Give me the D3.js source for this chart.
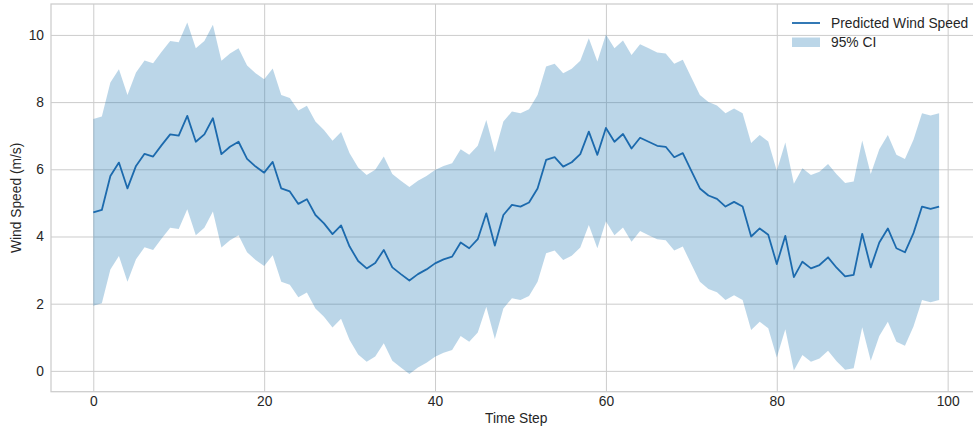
<!DOCTYPE html>
<html>
<head>
<meta charset="utf-8">
<script src="https://cdn.jsdelivr.net/npm/d3@7"></script>
<style>
  html, body { margin: 0; padding: 0; background: #ffffff; }
  svg { display: block; }
  text { font-family: "Liberation Sans", Arial, "DejaVu Sans", sans-serif; fill: #262626; }
</style>
</head>
<body>
<svg id="chart" width="973" height="429"></svg>
<script>
// Time steps 0..99
const timeSteps = d3.range(0, 100);

// Predicted wind speed (m/s) at each time step
const predicted = [
  4.72, 4.79, 5.80, 6.20, 5.43, 6.10, 6.46, 6.38, 6.72, 7.04,
  7.00, 7.59, 6.82, 7.04, 7.52, 6.45, 6.67, 6.82, 6.31, 6.08,
  5.90, 6.22, 5.43, 5.34, 4.97, 5.11, 4.64, 4.39, 4.07, 4.33,
  3.70, 3.27, 3.05, 3.21, 3.60, 3.08, 2.88, 2.69, 2.88, 3.02,
  3.20, 3.32, 3.40, 3.82, 3.65, 3.92, 4.69, 3.73, 4.64, 4.94,
  4.89, 5.01, 5.43, 6.28, 6.36, 6.08, 6.21, 6.45, 7.12, 6.43,
  7.23, 6.82, 7.05, 6.62, 6.94, 6.82, 6.70, 6.67, 6.36, 6.48,
  5.95, 5.43, 5.22, 5.12, 4.89, 5.03, 4.89, 4.00, 4.24, 4.05,
  3.18, 4.02, 2.79, 3.25, 3.05, 3.15, 3.38, 3.07, 2.81, 2.86,
  4.08, 3.08, 3.82, 4.24, 3.65, 3.53, 4.10, 4.89, 4.82, 4.89
];

// Lower bound of the 95% confidence interval
const ciLower = [
  1.94, 2.01, 3.02, 3.42, 2.65, 3.32, 3.68, 3.60, 3.94, 4.26,
  4.22, 4.81, 4.04, 4.26, 4.74, 3.67, 3.89, 4.04, 3.53, 3.30,
  3.12, 3.44, 2.65, 2.56, 2.19, 2.33, 1.86, 1.61, 1.29, 1.55,
  0.92, 0.49, 0.27, 0.43, 0.82, 0.30, 0.10, -0.09, 0.10, 0.24,
  0.42, 0.54, 0.62, 1.04, 0.87, 1.14, 1.91, 0.95, 1.86, 2.16,
  2.11, 2.23, 2.65, 3.50, 3.58, 3.30, 3.43, 3.67, 4.34, 3.65,
  4.45, 4.04, 4.27, 3.84, 4.16, 4.04, 3.92, 3.89, 3.58, 3.70,
  3.17, 2.65, 2.44, 2.34, 2.11, 2.25, 2.11, 1.22, 1.46, 1.27,
  0.40, 1.24, 0.01, 0.47, 0.27, 0.37, 0.60, 0.29, 0.03, 0.08,
  1.30, 0.30, 1.04, 1.46, 0.87, 0.75, 1.32, 2.11, 2.04, 2.11
];

// Upper bound of the 95% confidence interval
const ciUpper = [
  7.50, 7.57, 8.58, 8.98, 8.21, 8.88, 9.24, 9.16, 9.50, 9.82,
  9.78, 10.37, 9.60, 9.82, 10.30, 9.23, 9.45, 9.60, 9.09, 8.86,
  8.68, 9.00, 8.21, 8.12, 7.75, 7.89, 7.42, 7.17, 6.85, 7.11,
  6.48, 6.05, 5.83, 5.99, 6.38, 5.86, 5.66, 5.47, 5.66, 5.80,
  5.98, 6.10, 6.18, 6.60, 6.43, 6.70, 7.47, 6.51, 7.42, 7.72,
  7.67, 7.79, 8.21, 9.06, 9.14, 8.86, 8.99, 9.23, 9.90, 9.21,
  10.01, 9.60, 9.83, 9.40, 9.72, 9.60, 9.48, 9.45, 9.14, 9.26,
  8.73, 8.21, 8.00, 7.90, 7.67, 7.81, 7.67, 6.78, 7.02, 6.83,
  5.96, 6.80, 5.57, 6.03, 5.83, 5.93, 6.16, 5.85, 5.59, 5.64,
  6.86, 5.86, 6.60, 7.02, 6.43, 6.31, 6.88, 7.67, 7.60, 7.67
];

const xTicks = [0, 20, 40, 60, 80, 100];
const yTicks = [0, 2, 4, 6, 8, 10];

const legendLabels = ["Predicted Wind Speed", "95% CI"];

// ---- layout ----
const svg = d3.select("#chart");
const plot = { left: 51, right: 981.4, top: 4, bottom: 391.7 };
const lineColor = "#1c6aad";
const bandColor = "#1f77b4";
const gridColor = "#cccccc";
const fontSize = "13.8px";

const x = d3.scaleLinear().domain([-4.95, 103.95]).range([plot.left, plot.right]);
const y = d3.scaleLinear().domain([-0.62, 10.92]).range([plot.bottom, plot.top]);

const rows = timeSteps.map((t, i) => ({ t, p: predicted[i], lo: ciLower[i], hi: ciUpper[i] }));

// gridlines
const grid = svg.append("g");
grid.append("g")
  .attr("transform", `translate(0,${plot.bottom})`)
  .call(d3.axisBottom(x).tickValues(xTicks).tickSize(-(plot.bottom - plot.top)).tickFormat(""))
  .call(g => g.select(".domain").remove())
  .call(g => g.selectAll("line").attr("stroke", gridColor).attr("stroke-width", 1));
grid.append("g")
  .attr("transform", `translate(${plot.left},0)`)
  .call(d3.axisLeft(y).tickValues(yTicks).tickSize(-(plot.right - plot.left)).tickFormat(""))
  .call(g => g.select(".domain").remove())
  .call(g => g.selectAll("line").attr("stroke", gridColor).attr("stroke-width", 1));

// frame
svg.append("rect")
  .attr("x", plot.left).attr("y", plot.top)
  .attr("width", plot.right - plot.left).attr("height", plot.bottom - plot.top)
  .attr("fill", "none").attr("stroke", gridColor).attr("stroke-width", 1.25);

// confidence band
svg.append("path")
  .datum(rows)
  .attr("fill", bandColor)
  .attr("fill-opacity", 0.3)
  .attr("d", d3.area().x(d => x(d.t)).y0(d => y(d.lo)).y1(d => y(d.hi)));

// predicted line
svg.append("path")
  .datum(rows)
  .attr("fill", "none")
  .attr("stroke", lineColor)
  .attr("stroke-width", 1.8)
  .attr("stroke-linejoin", "round")
  .attr("d", d3.line().x(d => x(d.t)).y(d => y(d.p)));

// tick labels
svg.append("g")
  .attr("transform", `translate(0,${plot.bottom})`)
  .call(d3.axisBottom(x).tickValues(xTicks).tickSize(0).tickPadding(5))
  .call(g => g.select(".domain").remove())
  .call(g => g.selectAll("text").style("font-size", fontSize).attr("fill", "#262626"));
svg.append("g")
  .attr("transform", `translate(${plot.left},0)`)
  .call(d3.axisLeft(y).tickValues(yTicks).tickSize(0).tickPadding(7))
  .call(g => g.select(".domain").remove())
  .call(g => g.selectAll("text").style("font-size", fontSize).attr("fill", "#262626"));

// axis titles
svg.append("text")
  .attr("x", (plot.left + plot.right) / 2).attr("y", 423)
  .attr("text-anchor", "middle").style("font-size", fontSize)
  .text("Time Step");
svg.append("text")
  .attr("transform", `translate(21,${(plot.top + plot.bottom) / 2}) rotate(-90)`)
  .attr("text-anchor", "middle").style("font-size", fontSize)
  .text("Wind Speed (m/s)");

// legend
const legend = svg.append("g").attr("transform", "translate(792,0)");
legend.append("line")
  .attr("x1", 0).attr("x2", 28).attr("y1", 23).attr("y2", 23)
  .attr("stroke", lineColor).attr("stroke-width", 1.8);
legend.append("rect")
  .attr("x", 0).attr("y", 37.5).attr("width", 28).attr("height", 9.5)
  .attr("fill", bandColor).attr("fill-opacity", 0.3);
legend.selectAll("text.lbl")
  .data(legendLabels)
  .join("text")
  .attr("class", "lbl")
  .attr("x", 39)
  .attr("y", (d, i) => 23 + i * 19.5)
  .attr("dy", "0.35em")
  .style("font-size", fontSize)
  .text(d => d);
</script>
</body>
</html>
